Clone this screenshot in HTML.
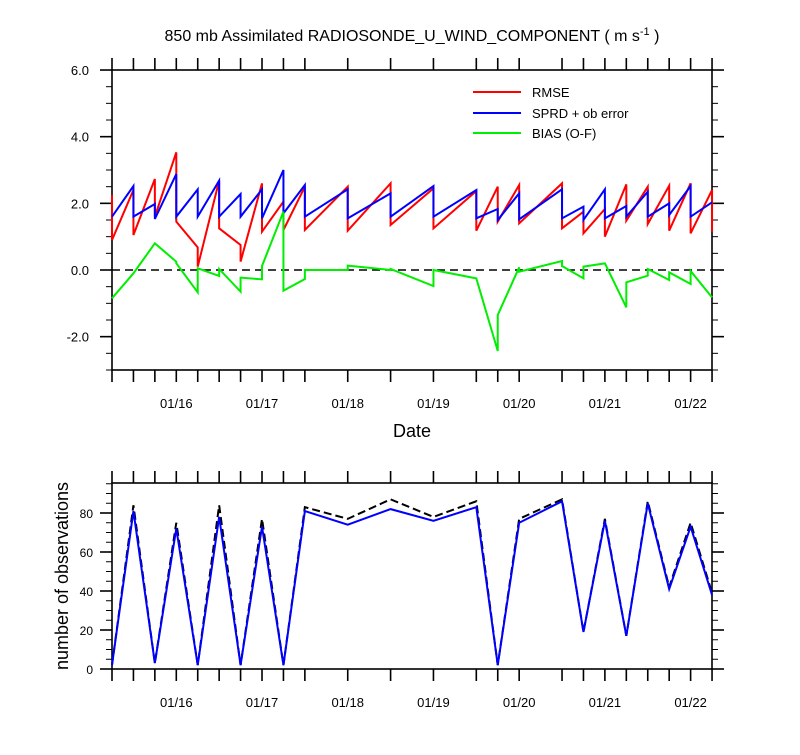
<!DOCTYPE html>
<html><head><meta charset="utf-8"><style>
body{margin:0;background:#fff;}
svg text{font-family:"Liberation Sans",Arial,sans-serif;fill:#000;}
</style></head><body>
<svg id="chart" width="800" height="750" xmlns="http://www.w3.org/2000/svg">
<text x="412" y="41" font-size="16" text-anchor="middle">850 mb Assimilated RADIOSONDE_U_WIND_COMPONENT ( m s<tspan dy="-6" font-size="11">-1</tspan><tspan dy="6"> )</tspan></text>
<text x="412" y="437" font-size="18" text-anchor="middle">Date</text>
<text transform="translate(68,576) rotate(-90)" font-size="18" text-anchor="middle">number of observations</text>
<g id="top"></g><g id="bot"></g>
</svg>
<script>
const times=[0,1,2,3,4,5,6,7,8,9,11,13,15,17,18,19,21,22,23,24,25,26,27,28];
const rmseA=[2.25,2.4,2.73,3.53,0.68,2.68,0.75,2.6,2.05,2.5,2.5,2.6,2.45,2.37,2.5,2.55,2.6,1.75,1.83,2.57,2.5,2.53,2.6,2.4];
const rmseB=[0.9,1.05,1.6,1.45,0.1,1.25,0.25,1.15,1.2,1.2,1.18,1.35,1.25,1.18,1.45,1.4,1.25,1.1,1.0,1.48,1.38,1.18,1.1,1.15];
const sprdA=[1.6,2.52,1.98,2.88,2.42,2.68,2.28,2.42,3.0,2.55,2.42,2.3,2.52,2.4,1.83,2.3,2.42,1.9,2.42,1.92,2.35,2.0,2.52,2.03];
const sprdB=[1.6,1.6,1.53,1.6,1.6,1.6,1.6,1.55,1.7,1.6,1.55,1.6,1.6,1.55,1.5,1.52,1.55,1.5,1.55,1.6,1.6,1.65,1.6,2.03];
const biasA=[-0.85,-0.1,0.8,0.25,-0.67,-0.18,-0.65,-0.28,1.75,-0.27,0,0,-0.48,-0.25,-2.43,0.08,0.27,-0.25,0.2,-1.12,-0.17,-0.3,-0.42,-0.82];
const biasB=[-0.85,-0.1,0.8,0.2,0.05,0.03,-0.23,0.12,-0.62,0,0.13,0.03,0,-0.25,-1.35,-0.05,0.12,0.1,0.2,-0.37,0.03,-0.07,-0.03,-0.82];
const obsAssim=[2,81,3,72,2,78,2,73,2,81,74,82,76,83,2,75,86,19,76,17,85,41,73,38];
const obsTotal=[2,84,3,75,2,84,2,77,2,83,77,87,78,86,2,77,87,19,77,17,86,42,75,39];
const dayLabels=["01/16","01/17","01/18","01/19","01/20","01/21","01/22"];
const dayIdx=[3,7,11,15,19,23,27];
const yTicksTop=[6,4,2,0,-2];
const yTicksBot=[0,20,40,60,80];
const NS="http://www.w3.org/2000/svg";
const X0=112,DX=21.43;
const xs=i=>X0+DX*i;
const yTop=v=>270-33.33*v;
const yBot=v=>669-1.95*v;
function mk(p,t,a){const e=document.createElementNS(NS,t);for(const k in a)e.setAttribute(k,a[k]);p.appendChild(e);return e;}
function frame(g,top,bot,ymin,ymax,yf,maj,minStep,name){
  const r=mk(g,'rect',{x:X0,y:top,width:600,height:bot-top,fill:'none',stroke:'#000','stroke-width':1.6});
  
  times.forEach(t=>{const x=xs(t);
    mk(g,'line',{x1:x,x2:x,y1:top,y2:top-12,stroke:'#000','stroke-width':1.6});
    mk(g,'line',{x1:x,x2:x,y1:bot,y2:bot+12,stroke:'#000','stroke-width':1.6});});
  for(let v=ymin;v<=ymax+1e-6;v+=minStep){const y=yf(v);const isMaj=maj.some(m=>Math.abs(m-v)<1e-6);const L=isMaj?12:6;
    mk(g,'line',{x1:X0,x2:X0-L,y1:y,y2:y,stroke:'#000','stroke-width':isMaj?1.6:1});
    mk(g,'line',{x1:712,x2:712+L,y1:y,y2:y,stroke:'#000','stroke-width':isMaj?1.6:1});}
  dayIdx.forEach((d,k)=>{const t=mk(g,'text',{x:xs(d),y:bot+38,'font-size':13,'text-anchor':'middle'});t.textContent=dayLabels[k];
    });
}
function saw(g,A,B,yf,color,name){let d='';
  times.forEach((t,i)=>{const x=xs(t);d+=(i?'L':'M')+x+','+yf(A[i])+'L'+x+','+yf(B[i]);});
  const p=mk(g,'path',{d:d,fill:'none',stroke:color,'stroke-width':2,'stroke-linejoin':'miter'});
  }
const gt=document.getElementById('top');
frame(gt,70,370,-3,6,yTop,yTicksTop,0.5,'top-plot');
yTicksTop.forEach(v=>{const t=mk(gt,'text',{x:89,y:yTop(v)+5,'font-size':13,'text-anchor':'end'});t.textContent=v.toFixed(1);
  });
const zl=mk(gt,'line',{x1:X0,x2:712,y1:yTop(0),y2:yTop(0),stroke:'#000','stroke-width':1.5,'stroke-dasharray':'8,5'});

saw(gt,rmseA,rmseB,yTop,'#ff0000','rmse-line');
saw(gt,sprdA,sprdB,yTop,'#0000ff','sprd-line');
saw(gt,biasA,biasB,yTop,'#00ee00','bias-line');
[['RMSE','#ff0000',92],['SPRD + ob error','#0000ff',113],['BIAS (O-F)','#00ee00',133]].forEach(e=>{
  const l=mk(gt,'line',{x1:473,x2:521,y1:e[2],y2:e[2],stroke:e[1],'stroke-width':2});
  
  const t=mk(gt,'text',{x:532,y:e[2]+5,'font-size':13});t.textContent=e[0];
  });
const gb=document.getElementById('bot');
frame(gb,483,669,0,95,yBot,yTicksBot,5,'bottom-plot');
yTicksBot.forEach(v=>{const t=mk(gb,'text',{x:93,y:yBot(v)+5,'font-size':12,'text-anchor':'end'});t.textContent=v;
  });
function line(g,arr,color,dash,name){const d=times.map((t,i)=>(i?'L':'M')+xs(t)+','+yBot(arr[i])).join('');
  const a={d:d,fill:'none',stroke:color,'stroke-width':2};if(dash)a['stroke-dasharray']=dash;
  const p=mk(g,'path',a);}
line(gb,obsTotal,'#000','8,4','obs-total-line');
line(gb,obsAssim,'#0000ff',null,'obs-assimilated-line');
</script>
</body></html>
